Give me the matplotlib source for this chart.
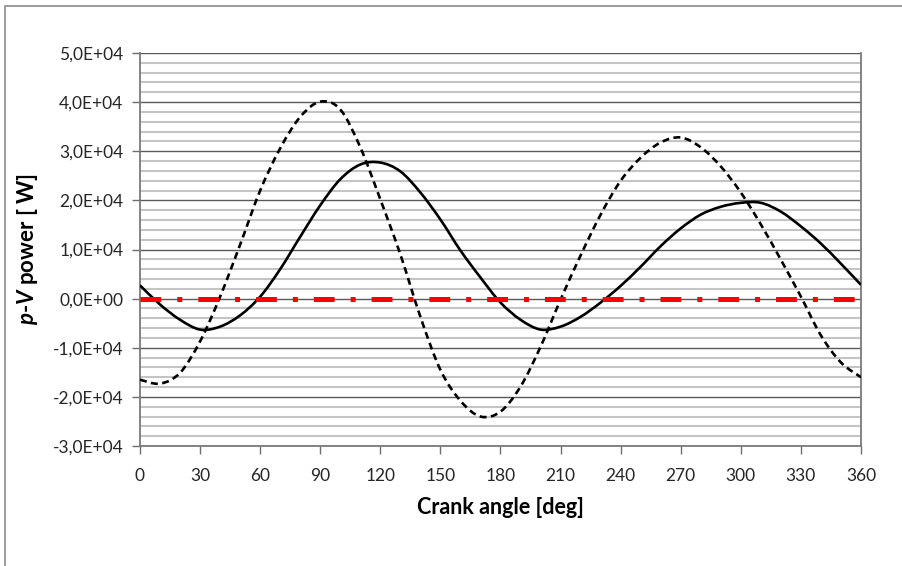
import matplotlib
matplotlib.use("Agg")
import matplotlib.pyplot as plt
from matplotlib.patches import PathPatch, Rectangle
from matplotlib.path import Path
from matplotlib.ticker import FuncFormatter, MultipleLocator

FONT = "Lato"
plt.rcParams.update(
    {
        "font.family": [FONT, "DejaVu Sans"],
        "mathtext.fontset": "custom",
        "mathtext.it": f"{FONT}:italic:bold",
        "mathtext.rm": f"{FONT}:bold",
        "lines.scale_dashes": False,
    }
)

# crank angle [deg]
angle = [0, 10, 20, 30, 40, 50, 60, 70, 80, 90, 100, 110, 120, 130, 140, 150, 160, 170, 180,
         190, 200, 210, 220, 230, 240, 250, 260, 270, 280, 290, 300, 310, 320, 330, 340, 350, 360]
# solid curve [W]
power_solid = [2700, -1200, -4300, -6300, -5700, -3400, 400, 6000, 12600, 19000, 24300, 27300, 27700,
               25900, 21600, 16100, 9800, 4300, -800, -4300, -6300, -5700, -3700, -800, 2600,
               6500, 10700, 14300, 17100, 18700, 19500, 19500, 17700, 14700, 11200, 7100, 2800]
# dashed curve [W]
power_dashed = [-16500, -17300, -15100, -8700, 400, 11000, 22000, 30600, 37000, 40100, 38500, 30800,
                20200, 9000, -3700, -14500, -20800, -24000, -23000, -17900, -9800, -200, 8800,
                17100, 24000, 28700, 31800, 32800, 30800, 26900, 21600, 15100, 7900, 400, -7500,
                -13000, -16000]
# zero reference
zero_angle = [0, 360]
zero_power = [0, 0]


def smooth_path(xs, ys):
    # spreadsheet-style smoothed line: cubic Bezier through every data point
    pts = list(zip(xs, ys))
    verts = [pts[0]]
    codes = [Path.MOVETO]
    n = len(pts)
    for i in range(n - 1):
        p0 = pts[max(i - 1, 0)]
        p1 = pts[i]
        p2 = pts[i + 1]
        p3 = pts[min(i + 2, n - 1)]
        c1 = (p1[0] + (p2[0] - p0[0]) / 6, p1[1] + (p2[1] - p0[1]) / 6)
        c2 = (p2[0] - (p3[0] - p1[0]) / 6, p2[1] - (p3[1] - p1[1]) / 6)
        verts += [c1, c2, p2]
        codes += [Path.CURVE4] * 3
    return Path(verts, codes)


fig = plt.figure(figsize=(9.03, 5.66), dpi=100)
fig.patches.append(Rectangle((5 / 903, -0.1), 1.1, 1.1 - 6 / 566, transform=fig.transFigure,
                             fill=False, edgecolor="#8c8c8c", linewidth=1.2))
ax = fig.add_axes([140 / 903, 1 - 446 / 566, (861 - 140) / 903, (446 - 53) / 566])

ax.add_patch(PathPatch(smooth_path(angle, power_solid), fill=False, edgecolor="black",
                       linewidth=1.9, zorder=4))
ax.add_patch(PathPatch(smooth_path(angle, power_dashed), fill=False, edgecolor="black",
                       linewidth=1.9, linestyle=(0, (5.0, 3.2)), zorder=4))
ax.plot(zero_angle, zero_power, color="#ff0000", linewidth=3.6, dashes=(15, 11.5, 3.6, 11.5),
        solid_capstyle="butt", dash_capstyle="butt", zorder=5)

ax.set_xlim(0, 360)
ax.set_ylim(-30000, 50000)
ax.xaxis.set_major_locator(MultipleLocator(30))
ax.yaxis.set_major_locator(MultipleLocator(10000))
ax.yaxis.set_minor_locator(MultipleLocator(2000))
ax.yaxis.set_major_formatter(FuncFormatter(lambda v, p: f"{v:.1E}".replace(".", ",")))

ax.grid(which="minor", axis="y", color="#c4c4c4", linewidth=1.5, zorder=0)
ax.grid(which="major", axis="y", color="#5a5a5a", linewidth=1.0, zorder=1)
ax.set_axisbelow(True)
ax.tick_params(which="minor", length=0)
ax.tick_params(which="major", direction="out", length=6, width=1.0, color="#6e6e6e",
               labelsize=12.5, labelcolor="#262626")
ax.tick_params(axis="x", pad=10)
ax.tick_params(axis="y", pad=6)
for side in ["left", "bottom", "right"]:
    ax.spines[side].set_color("#7a7a7a")
    ax.spines[side].set_linewidth(1.3)
ax.spines["top"].set_visible(False)

ax.set_xlabel("Crank angle [deg]", fontsize=15.5, fontweight="bold", labelpad=9)
ax.set_ylabel(r"$p$-$V$ power [ W]", fontsize=16, fontweight="bold", labelpad=9)

fig.savefig("out.png", dpi=100)
